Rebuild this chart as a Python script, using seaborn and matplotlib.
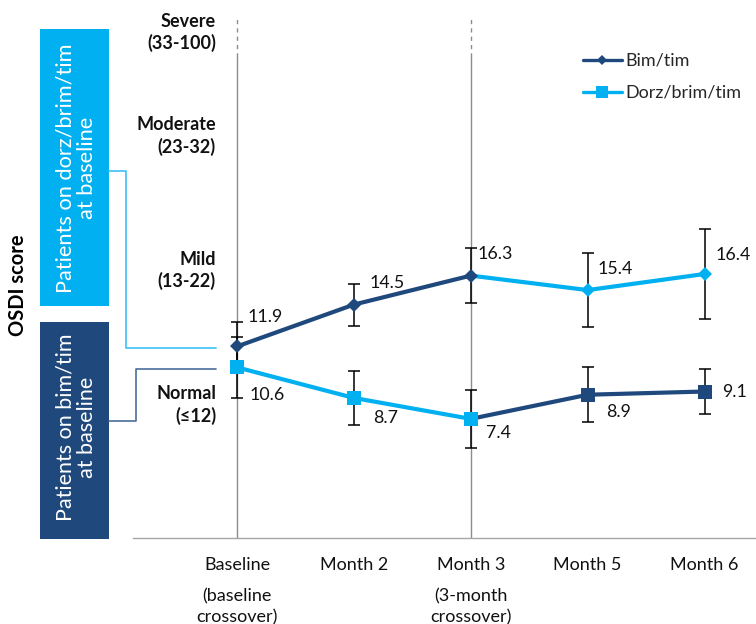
import matplotlib
matplotlib.use("Agg")
import matplotlib.pyplot as plt
from matplotlib.lines import Line2D
from matplotlib.patches import Rectangle
from matplotlib.transforms import blended_transform_factory
import numpy as np
import pandas as pd
import seaborn as sns

# ---- data -------------------------------------------------------------
visits = ["Baseline", "Month 2", "Month 3", "Month 5", "Month 6"]
visit_notes = ["(baseline\ncrossover)", "", "(3-month\ncrossover)", "", ""]
crossover_visits = ["Baseline", "Month 3"]

# group that switched from dorz/brim/tim (diamonds)
diamond_scores = [11.9, 14.5, 16.3, 15.4, 16.4]
diamond_err = [1.5, 1.3, 1.7, 2.3, 2.8]
# group that started on bim/tim (squares)
square_scores = [10.6, 8.7, 7.4, 8.9, 9.1]
square_err = [1.9, 1.7, 1.8, 1.7, 1.4]

severity_labels = ["Severe\n(33-100)", "Moderate\n(23-32)", "Mild\n(13-22)", "Normal\n(\u226412)"]
legend_labels = ["Bim/tim", "Dorz/brim/tim"]
box_labels = ["Patients on dorz/brim/tim\nat baseline", "Patients on bim/tim\nat baseline"]
y_title = "OSDI score"

# ---- style ------------------------------------------------------------
NAVY = "#1F497D"
CYAN = "#00B0F0"
GRAY = "#8C8C8C"
TXT = "#111111"

sns.set_theme(style="white")
plt.rcParams["font.family"] = ["Lato", "DejaVu Sans"]

W, H = 756, 624
fig = plt.figure(figsize=(W / 100, H / 100), dpi=100)


def fx(px):
    return px / W


def fy(py):
    return 1 - py / H


ax = fig.add_axes([fx(133), fy(538), 1 - fx(133), 538 / H])
ax.set_xlim(-0.89, 4.44)
ax.set_ylim(0, 33.42)

pos = np.arange(len(visits))
cross_idx = visits.index("Month 3")

# crossover reference lines
for v in crossover_visits:
    xv = visits.index(v)
    ax.plot([xv, xv], [0, 29.9], color=GRAY, lw=1, zorder=1)
    ax.plot([xv, xv], [29.9, 32.3], color=GRAY, lw=1, ls=(0, (3, 3)), zorder=1)

# error bars
for scores, errs in [(diamond_scores, diamond_err), (square_scores, square_err)]:
    ax.errorbar(pos, scores, yerr=errs, fmt="none", ecolor="black",
                elinewidth=1.1, capsize=4, capthick=1.1, zorder=2)

# treatment segments: before and after the month-3 crossover
groups = [
    (diamond_scores, "D", 7.2, NAVY, CYAN),
    (square_scores, "s", 10, CYAN, NAVY),
]
for scores, mk, ms, c_pre, c_post in groups:
    df_post = pd.DataFrame({"visit": pos[cross_idx:], "score": scores[cross_idx:]})
    sns.lineplot(data=df_post, x="visit", y="score", ax=ax, color=c_post, lw=3,
                 marker=mk, markersize=ms, markeredgecolor=c_post, markeredgewidth=0,
                 markevery=list(range(1, len(df_post))), zorder=3)
    df_pre = pd.DataFrame({"visit": pos[:cross_idx + 1], "score": scores[:cross_idx + 1]})
    sns.lineplot(data=df_pre, x="visit", y="score", ax=ax, color=c_pre, lw=3,
                 marker=mk, markersize=ms, markeredgecolor=c_pre, markeredgewidth=0,
                 zorder=4)

# value labels
diamond_offsets = [(10, -29), (16, -22), (7, -22), (10, -21), (11, -19)]
square_offsets = [(12, 28), (19, 20), (15, 14), (18, 17), (18, 0)]
for scores, offs in [(diamond_scores, diamond_offsets), (square_scores, square_offsets)]:
    for xi, (val, (dx, dy)) in enumerate(zip(scores, offs)):
        ax.annotate(f"{val:.1f}", (xi, val), xytext=(dx, -dy), textcoords="offset pixels",
                    ha="left", va="center", fontsize=12.8, color=TXT, zorder=5)

# axes styling
for side in ["left", "right", "top"]:
    ax.spines[side].set_visible(False)
ax.spines["bottom"].set_color("#A6A6A6")
ax.spines["bottom"].set_linewidth(1)
ax.set_yticks([])
ax.set_xticks(pos)
ax.set_xticklabels(visits, fontsize=13, color=TXT)
ax.set_xticks(np.arange(-0.5, 4.0, 1.0), minor=True)
ax.tick_params(axis="x", which="major", length=0, pad=14)
ax.tick_params(axis="x", which="minor", length=6, width=1, color="#A6A6A6", direction="out")
ax.set_xlabel("")
ax.set_ylabel("")

trans = blended_transform_factory(ax.transData, fig.transFigure)
for xi, note in enumerate(visit_notes):
    if note:
        ax.text(xi, fy(607), note, transform=trans, ha="center", va="center",
                fontsize=13, color=TXT, linespacing=1.35)

# severity band labels
for lab, yc in zip(severity_labels, [32.5, 136, 270.5, 405]):
    fig.text(fx(216), fy(yc), lab, ha="right", va="center", fontsize=13,
             weight="bold", color=TXT, linespacing=1.3)

# y title
fig.text(fx(18), fy(285), y_title, rotation=90, ha="center", va="center",
         fontsize=14.5, weight="bold", color="black")

# patient group boxes with connectors
fig.add_artist(Rectangle((fx(40), fy(306)), fx(69), 277 / H, transform=fig.transFigure,
                         facecolor=CYAN, edgecolor="none"))
fig.add_artist(Rectangle((fx(40), fy(539)), fx(69), 217 / H, transform=fig.transFigure,
                         facecolor=NAVY, edgecolor="none"))
fig.text(fx(76), fy(168), box_labels[0], rotation=90, ha="center", va="center",
         multialignment="center", fontsize=15.7, color="white", linespacing=1.1)
fig.text(fx(76), fy(427), box_labels[1], rotation=90, ha="center", va="center",
         multialignment="center", fontsize=15.5, color="white", linespacing=1.1)
fig.add_artist(Line2D([fx(109), fx(126), fx(126), fx(216)],
                      [fy(171), fy(171), fy(348), fy(348)],
                      transform=fig.transFigure, color="#3CC0F2", lw=1.2))
fig.add_artist(Line2D([fx(109), fx(136), fx(136), fx(216)],
                      [fy(421), fy(421), fy(369), fy(369)],
                      transform=fig.transFigure, color="#4A6D9C", lw=1.2))

# legend
handles = [
    Line2D([], [], color=NAVY, lw=2.4, marker="D", markersize=5.2, markeredgewidth=0),
    Line2D([], [], color=CYAN, lw=2.4, marker="s", markersize=8, markeredgewidth=0),
]
fig.legend(handles, legend_labels, loc="upper left", bbox_to_anchor=(fx(583), fy(53)),
           frameon=False, fontsize=13, handlelength=2.15, handletextpad=0.2,
           labelspacing=0.88, borderpad=0, borderaxespad=0)

fig.savefig("out.png", dpi=100)
